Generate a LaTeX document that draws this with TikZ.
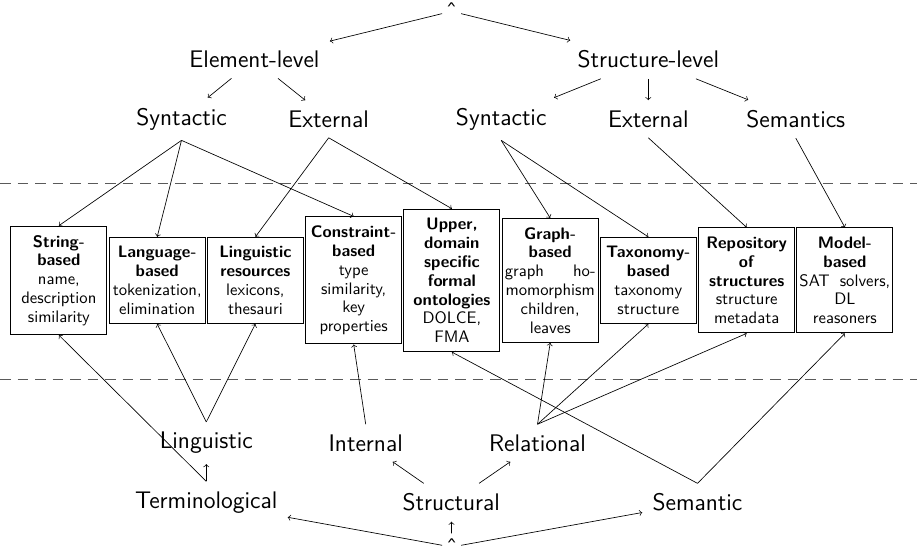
\documentclass[tikz,border=0pt]{standalone}
\usepackage{tikz}
\definecolor{r90g90b90}{rgb}{0.352941,0.352941,0.352941}%
\begin{document}
\begin{tikzpicture}[x=0.6pt,y=-0.6pt,
                    lbl/.style={font=\Large\sffamily, inner sep=6pt},
                    rootmark/.style={font=\Large\sffamily, inner xsep=2pt, inner ysep=3pt, text height=10pt, text depth=-6.4pt},
                    methbox/.style={draw, line width=0.6pt, text width=54.5pt, inner xsep=1.5pt, inner ysep=5.35pt, align=center, font=\sffamily\fontsize{10}{11.3}\selectfont},
                    sepline/.style={line width=0.6pt, r90g90b90, dash pattern=on 6.5pt off 4pt}]
                    \useasboundingbox (0,0) rectangle (917,552);
                    {\sffamily

                    % Marking upper tree
                    \node[rootmark] (topr) at (451.6,11.3) {\symbol{"02C6}};%
                    \node[lbl] (elem) at (254.5,59.6) {Element-level};%
                    \node[lbl] (strl) at (648.3,59.6) {Structure-level};%
                    \node[lbl] (synl) at (181.5,119) {Syntactic};%
                    \node[lbl] (extl) at (328.7,119) {External};%
                    \node[lbl] (synr) at (501.2,119) {Syntactic};%
                    \node[lbl] (extr) at (648.3,119) {External};%
                    \node[lbl] (sems) at (795.8,119) {Semantics};%

                    % Marking lower tree
                    \node[lbl] (ling) at (206.3,443) {Linguistic};%
                    \node[lbl] (intl) at (365.7,443) {Internal};%
                    \node[lbl] (rell) at (537.5,443) {Relational};%
                    \node[lbl] (term) at (206.3,502.5) {Terminological};%
                    \node[lbl] (strc) at (451.3,502.5) {Structural};%
                    \node[lbl] (seml) at (697.5,502.5) {Semantic};%
                    \node[rootmark] (botr) at (451.7,547) {\symbol{"02C6}};%

                    % Drawing separator lines
                    \draw[sepline] (0,183) -- (917,183);%
                    \draw[sepline] (0,379) -- (917,379);%

                    % Marking technique boxes
                    \node[methbox] (strb) at (58.9,280.4) {\textbf{String-}\\\textbf{based}\\name,\\description\\similarity};%
                    \node[methbox] (lanb) at (157.2,280.4) {\textbf{Language-}\\\textbf{based}\\tokenization,\\elimination};%
                    \node[methbox] (lres) at (255.4,280.4) {\textbf{Linguistic}\\\textbf{resources}\\lexicons,\\thesauri};%
                    \node[methbox] (conb) at (353.7,280.4) {\textbf{Constraint-}\\\textbf{based}\\type\\similarity,\\key\\properties};%
                    \node[methbox] (upon) at (451.9,280.4) {\textbf{Upper,}\\\textbf{domain}\\\textbf{specific}\\\textbf{formal}\\\textbf{ontologies}\\DOLCE,\\FMA};%
                    \node[methbox] (grab) at (550.2,280.4) {\textbf{Graph-}\\\textbf{based}\\graph\hfill ho-\\momorphism\\children,\\leaves};%
                    \node[methbox] (taxb) at (648.4,280.4) {\textbf{Taxonomy-}\\\textbf{based}\\taxonomy\\structure};%
                    \node[methbox] (repo) at (746.7,280.4) {\textbf{Repository}\\\textbf{of}\\\textbf{structures}\\structure\\metadata};%
                    \node[methbox] (modb) at (844.9,280.4) {\textbf{Model-}\\\textbf{based}\\SAT\hfill solvers,\\DL\\reasoners};%

                    % Drawing upper tree edges
                    \draw[->] (topr) -- (elem);%
                    \draw[->] (topr) -- (strl);%
                    \draw[->] (elem) -- (synl);%
                    \draw[->] (elem) -- (extl);%
                    \draw[->] (strl) -- (synr);%
                    \draw[->] (strl) -- (extr);%
                    \draw[->] (strl) -- (sems);%

                    % Drawing lines from upper tree to boxes
                    \draw[->] (synl.south) -- (strb.north);%
                    \draw[->] (synl.south) -- (lanb.north);%
                    \draw[->] (synl.south) -- (conb.north);%
                    \draw[->] (extl.south) -- (lres.north);%
                    \draw[->] (extl.south) -- (upon.north);%
                    \draw[->] (synr.south) -- (grab.north);%
                    \draw[->] (synr.south) -- (taxb.north);%
                    \draw[->] (extr.south) -- (repo.north);%
                    \draw[->] (sems.south) -- (modb.north);%

                    % Drawing lower tree edges
                    \draw[->] (botr) -- (term);%
                    \draw[->] (botr) -- (strc);%
                    \draw[->] (botr) -- (seml);%
                    \draw[->] (term.north) -- (ling.south);%
                    \draw[->] (strc) -- (intl);%
                    \draw[->] (strc) -- (rell);%

                    % Drawing lines from lower tree to boxes
                    \draw[->] (term.north) -- (strb.south);%
                    \draw[->] (ling.north) -- (lanb.south);%
                    \draw[->] (ling.north) -- (lres.south);%
                    \draw[->] (intl.north) -- (conb.south);%
                    \draw[->] (rell.north) -- (grab.south);%
                    \draw[->] (rell.north) -- (taxb.south);%
                    \draw[->] (rell.north) -- (repo.south);%
                    \draw[->] (seml.north) -- (upon.south);%
                    \draw[->] (seml.north) -- (modb.south);%
                    }
\end{tikzpicture}
\end{document}
